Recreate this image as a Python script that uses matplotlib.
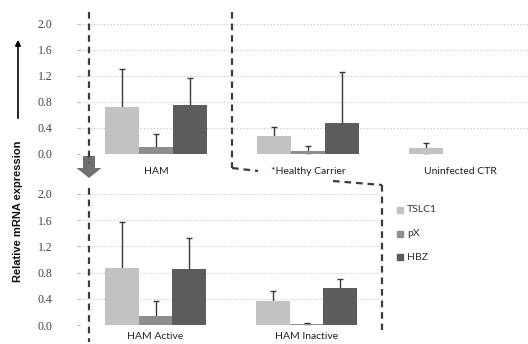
import matplotlib
matplotlib.use("Agg")
import matplotlib.pyplot as plt
import numpy as np
from matplotlib.patches import FancyArrow

# ---- data ----
series = ["TSLC1", "pX", "HBZ"]
colors = ["#c2c2c2", "#8e8e8e", "#5c5c5c"]

top_categories = ["HAM", "*Healthy Carrier", "Uninfected CTR"]
top_tslc1 = [0.72, 0.28, 0.09]
top_tslc1_err = [0.59, 0.14, 0.08]
top_px = [0.11, 0.05, 0.0]
top_px_err = [0.20, 0.07, 0.0]
top_hbz = [0.75, 0.47, 0.0]
top_hbz_err = [0.42, 0.79, 0.0]

bot_categories = ["HAM Active", "HAM Inactive"]
bot_tslc1 = [0.87, 0.37]
bot_tslc1_err = [0.70, 0.15]
bot_px = [0.14, 0.02]
bot_px_err = [0.23, 0.01]
bot_hbz = [0.85, 0.56]
bot_hbz_err = [0.48, 0.14]

yticks = [0.0, 0.4, 0.8, 1.2, 1.6, 2.0]

plt.rcParams['font.family'] = ['Lato', 'DejaVu Sans']

W, H = 528, 344
fig = plt.figure(figsize=(W / 100, H / 100), dpi=100)


def fx(px):
    return px / W


def fy(py):
    return 1 - py / H


bw = 0.224


def draw_panel(ax, cats, vals, errs, xmax, xpad):
    x = np.arange(len(cats))
    for i, (v, e, c) in enumerate(zip(vals, errs, colors)):
        pos = x + (i - 1) * bw
        ax.bar(pos, v, width=bw, color=c, edgecolor='none', zorder=2)
        e = np.array(e)
        show = e > 0
        # symmetric bars drawn behind the bars -> only the upper half shows
        ax.errorbar(pos[show], np.array(v)[show], yerr=e[show],
                    fmt='none', ecolor='#3a3a3a', elinewidth=1.0,
                    capsize=2, capthick=1.0, zorder=1.9)
    ax.set_xlim(-0.5, xmax)
    ax.set_ylim(0, 2.0)
    ax.set_yticks(yticks)
    ax.set_yticklabels([f"{t:.1f}" for t in yticks], fontsize=8.5,
                       color='#444444', family=['Liberation Serif', 'DejaVu Serif'])
    ax.set_xticks(x)
    ax.set_xticklabels(cats, fontsize=7.5, color='#222222')
    ax.tick_params(axis='x', length=0, pad=xpad)
    ax.tick_params(axis='y', length=2, color='#bbbbbb', pad=18)
    for s in ax.spines.values():
        s.set_visible(False)
    ax.yaxis.grid(True, linestyle=(0, (1, 2)), color='#c4c4c4', linewidth=0.8, zorder=0)
    ax.axhline(0, color='#d0d0d0', linestyle=(0, (1, 2)), linewidth=0.8, zorder=1)
    ax.set_axisbelow(True)


# top panel
ax1 = fig.add_axes([fx(80), fy(154), fx(448), 130 / H])
draw_panel(ax1, top_categories, [top_tslc1, top_px, top_hbz],
           [top_tslc1_err, top_px_err, top_hbz_err], 2.447, 9)

# bottom panel
ax2 = fig.add_axes([fx(80), fy(325), fx(302), 131 / H])
draw_panel(ax2, bot_categories, [bot_tslc1, bot_px, bot_hbz],
           [bot_tslc1_err, bot_px_err, bot_hbz_err], 1.5, 5)

# overlay for annotations (pixel coordinates)
ov = fig.add_axes([0, 0, 1, 1], zorder=5)
ov.set_xlim(0, W)
ov.set_ylim(H, 0)
ov.axis('off')
ov.patch.set_alpha(0)

dash = dict(color='#3c3c3c', linewidth=1.6, linestyle=(0, (3, 2.2)))
ov.plot([89, 89], [12, 163], **dash)
ov.plot([89, 89], [188, 342], **dash)
ov.plot([232, 232], [12, 168], **dash)
ov.plot([232, 258], [168, 171], **dash)
ov.plot([333, 382], [181, 185], **dash)
ov.plot([382, 382], [185, 330], **dash)

# big down arrow
ov.add_patch(FancyArrow(89, 156, 0, 22, width=12, head_width=25,
                        head_length=10, length_includes_head=True,
                        color='#707070', ec='none'))

# y label with arrow
ov.annotate('', xy=(18, 37), xytext=(18, 121),
            arrowprops=dict(arrowstyle='-|>', color='black', lw=1.2,
                            mutation_scale=8))
ov.text(18, 211, 'Relative mRNA expression', rotation=90, ha='center',
        va='center', fontsize=8, fontweight='bold',
        family=['Liberation Sans', 'DejaVu Sans'], color='#111111')

# legend
for i, (name, c) in enumerate(zip(series, colors)):
    yy = 210 + i * 23.5
    ov.add_patch(plt.Rectangle((397, yy - 3), 6, 6, color=c))
    ov.text(407, yy, name, fontsize=7.5, va='center', ha='left', color='#333333')

fig.savefig('out.png', dpi=100)
